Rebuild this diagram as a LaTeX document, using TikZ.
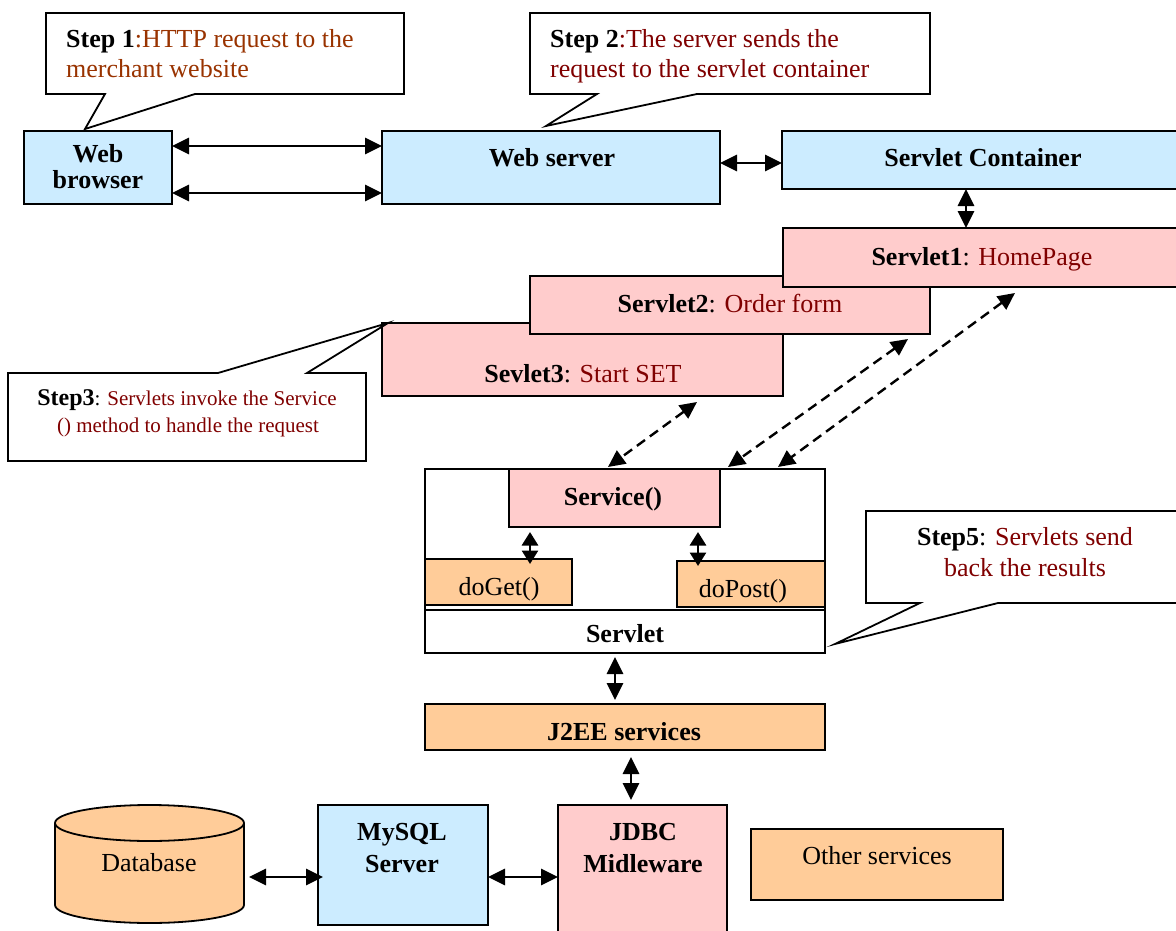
\documentclass[tikz,border=0pt]{standalone}
\usepackage{fontspec}
\setmainfont{Liberation Serif}
\usetikzlibrary{arrows.meta}
\definecolor{boxblue}{HTML}{CCECFF}
\definecolor{boxpink}{HTML}{FFCCCC}
\definecolor{boxorange}{HTML}{FFCC99}
\definecolor{darkred}{HTML}{800000}
\definecolor{stepbrown}{HTML}{993300}
\begin{document}
\begin{tikzpicture}[x=1pt,y=-1pt,
  box/.style={draw=black, line width=1.8pt, inner sep=0pt, outer sep=0pt},
  lbl/.style={font=\fontsize{26}{30}\selectfont, inner sep=0pt, anchor=base},
  bl/.style={lbl, font=\fontsize{26}{30}\selectfont\bfseries},
  callout/.style={draw=black, fill=white, line width=1.8pt, line join=miter},
  link/.style={line width=2.8pt, {Triangle[length=17pt,width=16pt]}-{Triangle[length=17pt,width=16pt]}},
  shortlink/.style={line width=2.8pt, {Triangle[length=13.5pt,width=16pt]}-{Triangle[length=13.5pt,width=16pt]}},
  dlink/.style={line width=2.4pt, dash pattern=on 10pt off 6pt, {Triangle[length=17pt,width=16pt]}-{Triangle[length=17pt,width=16pt]}}
]
\useasboundingbox (0,0) rectangle (1176,931);

% ---- top row: browser, web server, servlet container
\node[box, fill=boxblue, minimum width=148pt, minimum height=73pt] (wb) at (98,167.5) {};
\node[box, fill=boxblue, minimum width=338pt, minimum height=73pt] (ws) at (551,167.5) {};
\node[box, fill=boxblue, minimum width=402pt, minimum height=58pt] (sc) at (983,160) {};
\node[bl] (wbt1) at (98,163) {Web};
\node[bl] (wbt2) at (98,189) {browser};
\node[bl] (wst) at (552,167) {Web server};
\node[bl] (sct) at (983,167) {Servlet Container};

\draw[link] ([yshift=21.5pt]wb.east) -- ([yshift=21.5pt]wb.east -| ws.west);
\draw[link] ([yshift=-25.5pt]wb.east) -- ([yshift=-25.5pt]wb.east -| ws.west);
\draw[link] ([yshift=4.5pt]ws.east) -- ([yshift=4.5pt]ws.east -| sc.west);

% ---- stacked servlets
\node[box, fill=boxpink, minimum width=401pt, minimum height=73pt] (s3) at (582.5,359.5) {};
\node[box, fill=boxpink, minimum width=400pt, minimum height=58pt] (s2) at (730,305) {};
\node[box, fill=boxpink, minimum width=402pt, minimum height=59pt] (s1) at (984,257.5) {};
\node[lbl] (s1t) at (982,265) {\textbf{Servlet1}: \textcolor{darkred}{HomePage}};
\node[lbl] (s2t) at (730,312) {\textbf{Servlet2}: \textcolor{darkred}{Order form}};
\node[lbl] (s3t) at (583,382) {\textbf{Sevlet3}: \textcolor{darkred}{Start SET}};

\draw[link] ([xshift=-17pt]sc.south) -- ([xshift=-17pt]sc.south |- s1.north);

% ---- servlet block
\node[box, minimum width=400pt, minimum height=184pt] (svt) at (625,561) {};
\node[box, minimum width=400pt, minimum height=43pt] (strip) at (625,631.5) {};
\node[box, fill=boxpink, minimum width=211pt, minimum height=58pt] (svc) at (614.5,498) {};
\node[box, fill=boxorange, minimum width=147pt, minimum height=46pt] (dg) at (498.5,582) {};
\node[box, fill=boxorange, minimum width=148pt, minimum height=46pt] (dp) at (751,584) {};
\node[bl] (svct) at (613,505) {Service()};
\node[lbl] (dgt) at (499,595) {doGet()};
\node[lbl] (dpt) at (743,597) {doPost()};
\node[bl] (stript) at (625,642) {Servlet};

\draw[shortlink] ([xshift=-84.5pt,yshift=-5pt]svc.south) -- ([xshift=-84.5pt,yshift=-5pt]svc.south |- dg.north);
\draw[shortlink] ([xshift=83.5pt,yshift=-5pt]svc.south) -- ([xshift=83.5pt,yshift=-5pt]svc.south |- dp.north);

% ---- dashed request paths between servlets and service()
\draw[dlink] ([xshift=114.5pt,yshift=-6pt]s3.south) -- ([xshift=-6.5pt,yshift=2pt]svc.north);
\draw[dlink] ([xshift=178pt,yshift=-5pt]s2.south) -- ([xshift=103pt,yshift=2pt]svt.north);
\draw[dlink] ([xshift=31pt,yshift=-6pt]s1.south) -- ([xshift=153pt,yshift=2pt]svt.north);

% ---- J2EE layer
\node[box, fill=boxorange, minimum width=400pt, minimum height=46pt] (j2) at (625,727) {};
\node[bl] (j2t) at (624,740) {J2EE services};
\draw[link] ([xshift=-10pt,yshift=-4pt]svt.south) -- ([xshift=-10pt,yshift=4pt]svt.south |- j2.north);

% ---- bottom row
\node[box, fill=boxblue, minimum width=170pt, minimum height=120pt] (my) at (403,865) {};
\node[box, fill=boxpink, minimum width=169pt, minimum height=130pt] (jd) at (642.5,870) {};
\node[box, fill=boxorange, minimum width=252pt, minimum height=71pt] (os) at (877,864.5) {};
\node[inner sep=0pt, outer sep=0pt, minimum width=189pt, minimum height=118pt] (db) at (149.5,864) {};
% database cylinder (y axis points down, so angles run the other way)
\draw[box, fill=boxorange] (55,823) -- (55,905) arc[start angle=180, end angle=0, x radius=94.5, y radius=18]
  -- (244,823) arc[start angle=0, end angle=-180, x radius=94.5, y radius=18] -- cycle;
\draw[line width=1.8pt] (55,823) arc[start angle=180, end angle=0, x radius=94.5, y radius=18];
\node[lbl] (dbt) at (149,871) {Database};
\node[bl] (myt1) at (402,840) {MySQL};
\node[bl] (myt2) at (402,872) {Server};
\node[bl] (jdt1) at (643,840) {JDBC};
\node[bl] (jdt2) at (643,872) {Midleware};
\node[lbl] (ost) at (877,864) {Other services};

\draw[link] ([xshift=6pt,yshift=-7pt]j2.south) -- ([xshift=6pt,yshift=5pt]j2.south |- jd.north);
\draw[link] ([xshift=5pt,yshift=-13pt]db.east) -- ([xshift=5pt,yshift=-13pt]db.east -| my.west);
\draw[link] ([yshift=-12pt]my.east) -- ([yshift=-12pt]my.east -| jd.west);

% ---- step callouts
\draw[callout] (46,13) -- (404,13) -- (404,94) -- (195,94) -- (85,129) -- (105,94) -- (46,94) -- cycle;
\node[lbl, anchor=base west] (c1a) at (66,48) {\textbf{Step 1}\textcolor{stepbrown}{:HTTP request to the}};
\node[lbl, anchor=base west] (c1b) at (66,78) {\textcolor{stepbrown}{merchant website}};

\draw[callout] (530,13) -- (930,13) -- (930,94) -- (697,94) -- (546,126) -- (597,94) -- (530,94) -- cycle;
\node[lbl, anchor=base west] (c2a) at (550,48) {\textbf{Step 2}\textcolor{darkred}{:The server sends the}};
\node[lbl, anchor=base west] (c2b) at (550,78) {\textcolor{darkred}{request to the servlet container}};

\draw[callout] (8,373) -- (218,373) -- (388,323) -- (307,373) -- (366,373) -- (366,461) -- (8,461) -- cycle;
\node[lbl] (c3a) at (187,405) {\fontsize{24}{28}\selectfont\textbf{Step3}\fontsize{21}{25}\selectfont: \textcolor{darkred}{Servlets invoke the Service}};
\node[lbl] (c3b) at (188,432) {\fontsize{21}{25}\selectfont\textcolor{darkred}{() method to handle the request}};

\draw[callout] (866,511) -- (1182,511) -- (1182,603) -- (998,603) -- (835,644) -- (920,603) -- (866,603) -- cycle;
\node[lbl] (c5a) at (1025,545) {\textbf{Step5}: \textcolor{darkred}{Servlets send}};
\node[lbl] (c5b) at (1025,576) {\textcolor{darkred}{back the results}};
\end{tikzpicture}
\end{document}
